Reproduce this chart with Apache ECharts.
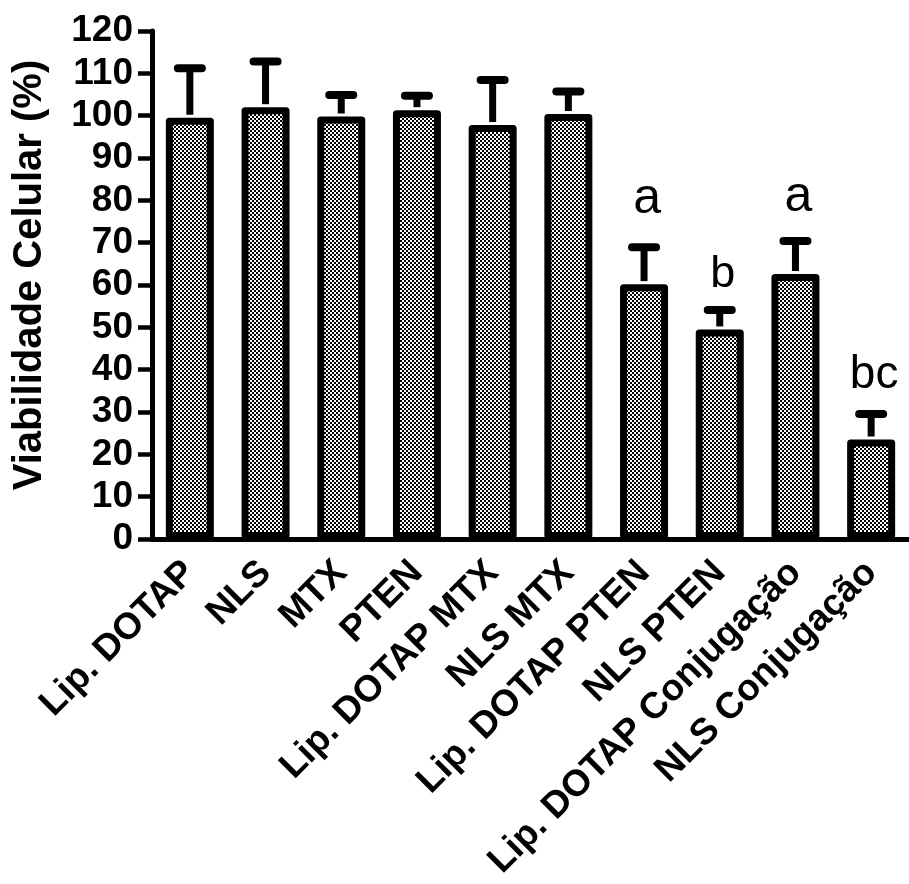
<!DOCTYPE html>
<html>
<head>
<meta charset="utf-8">
<script src="https://cdn.jsdelivr.net/npm/echarts@6/dist/echarts.min.js"></script>
<style>
html,body{margin:0;padding:0;background:#fff;}
#chart{width:909px;height:884px;}
</style>
</head>
<body>
<div id="chart"></div>
<script>
const categories = ['Lip. DOTAP', 'NLS', 'MTX', 'PTEN', 'Lip. DOTAP MTX', 'NLS MTX', 'Lip. DOTAP PTEN', 'NLS PTEN', 'Lip. DOTAP Conjugação', 'NLS Conjugação'];
const means = [99.5, 102.0, 99.8, 101.3, 97.8, 100.4, 60.2, 49.5, 62.6, 23.5];
const errors = [11.7, 10.8, 5.1, 3.4, 10.6, 5.3, 8.7, 4.6, 7.8, 6.0];
const letters = ['', '', '', '', '', '', 'a', 'b', 'a', 'bc'];
const letterLevels = [null, null, null, null, null, null, 76.5, 59.1, 77.0, 35.4];

const FONT = '"Liberation Sans", Arial, sans-serif';
const letterSize = { 'a': 50, 'b': 45, 'bc': 46 };

// checkerboard pattern
const pat = document.createElement('canvas');
pat.width = 4; pat.height = 4;
const pc = pat.getContext('2d');
pc.fillStyle = '#fff'; pc.fillRect(0, 0, 4, 4);
pc.fillStyle = '#000'; pc.fillRect(0, 0, 2, 2); pc.fillRect(2, 2, 2, 2);

const errData = categories.map((c, i) => [i, means[i], means[i] + errors[i], letterLevels[i] == null ? 0 : letterLevels[i]]);

const chart = echarts.init(document.getElementById('chart'), null, { renderer: 'canvas' });
chart.setOption({
  animation: false,
  backgroundColor: '#fff',
  grid: { left: 152, right: 0, top: 31, bottom: 345, containLabel: false },
  xAxis: {
    type: 'category',
    data: categories,
    axisLine: { lineStyle: { color: '#000', width: 5 } },
    axisTick: { alignWithLabel: true, length: 11, lineStyle: { color: '#000', width: 4 } },
    axisLabel: { interval: 0, rotate: 45, margin: 28, color: '#000', fontSize: 37, fontWeight: 'bold', fontFamily: FONT }
  },
  yAxis: {
    type: 'value',
    min: 0, max: 120, interval: 10,
    name: 'Viabilidade Celular (%)',
    nameLocation: 'middle',
    nameGap: 102,
    nameTextStyle: { color: '#000', fontSize: 40, fontWeight: 'bold', fontFamily: FONT, padding: [0, 0, 0, 20] },
    splitLine: { show: false },
    axisLine: { show: true, lineStyle: { color: '#000', width: 5 } },
    axisTick: { show: true, length: 14, lineStyle: { color: '#000', width: 4.5 } },
    axisLabel: { margin: 19, color: '#000', fontSize: 37, fontWeight: 'bold', fontFamily: FONT }
  },
  series: [
    {
      type: 'bar',
      data: means,
      barWidth: 48,
      itemStyle: {
        color: { image: pat, repeat: 'repeat' },
        borderColor: '#000',
        borderWidth: 7,
        borderJoin: 'round'
      },
      z: 2
    },
    {
      type: 'custom',
      data: errData,
      z: 3,
      clip: false,
      renderItem: function (params, api) {
        const i = api.value(0);
        const m = api.value(1);
        const t = api.value(2);
        const p0 = api.coord([i, m]);
        const p1 = api.coord([i, t]);
        const children = [
          { type: 'line', shape: { x1: p0[0], y1: p0[1] - 3, x2: p1[0], y2: p1[1] }, style: { stroke: '#000', lineWidth: 7 } },
          { type: 'line', shape: { x1: p1[0] - 12, y1: p1[1], x2: p1[0] + 12, y2: p1[1] }, style: { stroke: '#000', lineWidth: 8, lineCap: 'round' } }
        ];
        const L = letters[params.dataIndex];
        if (L) {
          const fs = letterSize[L];
          const pl = api.coord([i, api.value(3)]);
          children.push({
            type: 'text',
            x: p1[0] + 3, y: pl[1] + 0.19 * fs,
            style: { text: L, fill: '#000', fontSize: fs, fontFamily: FONT, align: 'center', verticalAlign: 'bottom' }
          });
        }
        return { type: 'group', children: children };
      }
    }
  ]
});
</script>
</body>
</html>
